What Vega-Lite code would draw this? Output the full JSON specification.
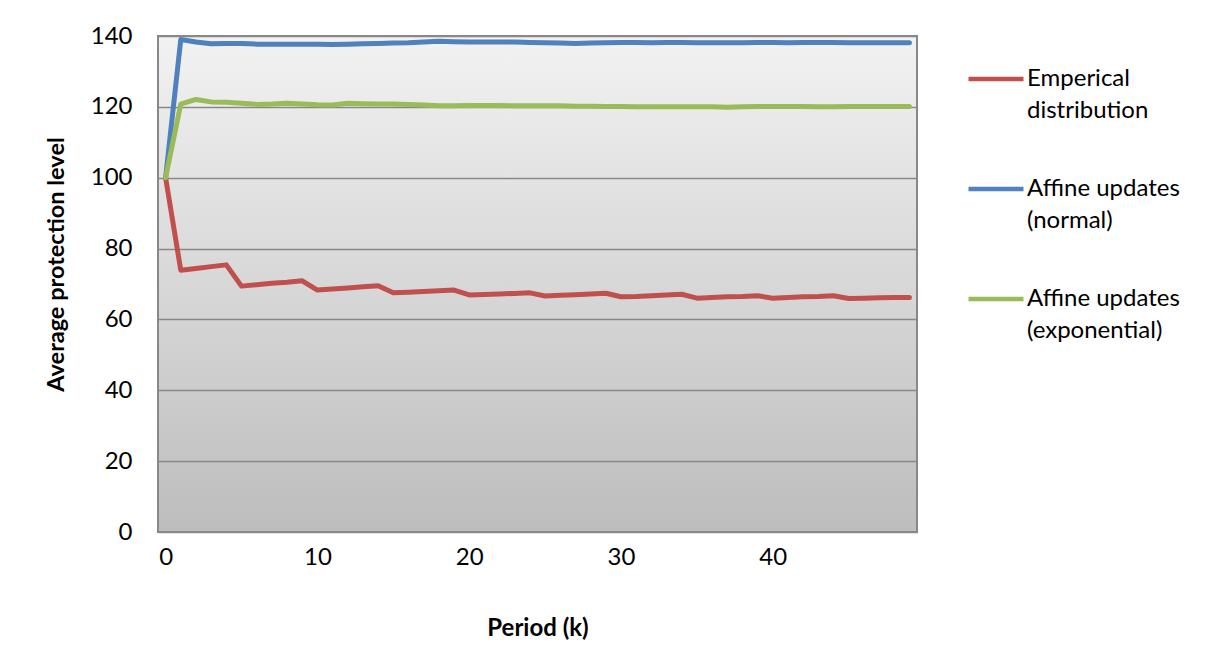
{
  "$schema": "https://vega.github.io/schema/vega-lite/v6.json",
  "width": 759,
  "height": 496,
  "autosize": {"type": "none"},
  "padding": {"left": 158, "top": 36, "right": 299, "bottom": 138},
  "background": "white",
  "view": {
    "fill": {"gradient": "linear", "x1": 0, "y1": 0, "x2": 0, "y2": 1, "stops": [{"offset": 0, "color": "#f2f2f2"}, {"offset": 1, "color": "#bdbdbd"}]},
    "stroke": "#888888",
    "strokeWidth": 2
  },
  "datasets": {
    "main": [
      {"k":0,"series":"Emperical distribution","value":100},
      {"k":1,"series":"Emperical distribution","value":73.9},
      {"k":2,"series":"Emperical distribution","value":74.4},
      {"k":3,"series":"Emperical distribution","value":74.9},
      {"k":4,"series":"Emperical distribution","value":75.4},
      {"k":5,"series":"Emperical distribution","value":69.4},
      {"k":6,"series":"Emperical distribution","value":69.8},
      {"k":7,"series":"Emperical distribution","value":70.2},
      {"k":8,"series":"Emperical distribution","value":70.5},
      {"k":9,"series":"Emperical distribution","value":70.9},
      {"k":10,"series":"Emperical distribution","value":68.3},
      {"k":11,"series":"Emperical distribution","value":68.6},
      {"k":12,"series":"Emperical distribution","value":68.9},
      {"k":13,"series":"Emperical distribution","value":69.2},
      {"k":14,"series":"Emperical distribution","value":69.5},
      {"k":15,"series":"Emperical distribution","value":67.5},
      {"k":16,"series":"Emperical distribution","value":67.7},
      {"k":17,"series":"Emperical distribution","value":67.9},
      {"k":18,"series":"Emperical distribution","value":68.1},
      {"k":19,"series":"Emperical distribution","value":68.3},
      {"k":20,"series":"Emperical distribution","value":66.9},
      {"k":21,"series":"Emperical distribution","value":67.05},
      {"k":22,"series":"Emperical distribution","value":67.2},
      {"k":23,"series":"Emperical distribution","value":67.35},
      {"k":24,"series":"Emperical distribution","value":67.5},
      {"k":25,"series":"Emperical distribution","value":66.6},
      {"k":26,"series":"Emperical distribution","value":66.8},
      {"k":27,"series":"Emperical distribution","value":67.0},
      {"k":28,"series":"Emperical distribution","value":67.2},
      {"k":29,"series":"Emperical distribution","value":67.4},
      {"k":30,"series":"Emperical distribution","value":66.4},
      {"k":31,"series":"Emperical distribution","value":66.5},
      {"k":32,"series":"Emperical distribution","value":66.7},
      {"k":33,"series":"Emperical distribution","value":66.9},
      {"k":34,"series":"Emperical distribution","value":67.1},
      {"k":35,"series":"Emperical distribution","value":66.0},
      {"k":36,"series":"Emperical distribution","value":66.2},
      {"k":37,"series":"Emperical distribution","value":66.4},
      {"k":38,"series":"Emperical distribution","value":66.5},
      {"k":39,"series":"Emperical distribution","value":66.7},
      {"k":40,"series":"Emperical distribution","value":66.0},
      {"k":41,"series":"Emperical distribution","value":66.2},
      {"k":42,"series":"Emperical distribution","value":66.4},
      {"k":43,"series":"Emperical distribution","value":66.5},
      {"k":44,"series":"Emperical distribution","value":66.7},
      {"k":45,"series":"Emperical distribution","value":65.9},
      {"k":46,"series":"Emperical distribution","value":66.0},
      {"k":47,"series":"Emperical distribution","value":66.1},
      {"k":48,"series":"Emperical distribution","value":66.2},
      {"k":49,"series":"Emperical distribution","value":66.2},
      {"k":0,"series":"Affine updates (normal)","value":100},
      {"k":1,"series":"Affine updates (normal)","value":139.0},
      {"k":2,"series":"Affine updates (normal)","value":138.3},
      {"k":3,"series":"Affine updates (normal)","value":137.8},
      {"k":4,"series":"Affine updates (normal)","value":137.9},
      {"k":5,"series":"Affine updates (normal)","value":137.9},
      {"k":6,"series":"Affine updates (normal)","value":137.7},
      {"k":7,"series":"Affine updates (normal)","value":137.7},
      {"k":8,"series":"Affine updates (normal)","value":137.7},
      {"k":9,"series":"Affine updates (normal)","value":137.7},
      {"k":10,"series":"Affine updates (normal)","value":137.7},
      {"k":11,"series":"Affine updates (normal)","value":137.6},
      {"k":12,"series":"Affine updates (normal)","value":137.7},
      {"k":13,"series":"Affine updates (normal)","value":137.8},
      {"k":14,"series":"Affine updates (normal)","value":137.9},
      {"k":15,"series":"Affine updates (normal)","value":138.0},
      {"k":16,"series":"Affine updates (normal)","value":138.1},
      {"k":17,"series":"Affine updates (normal)","value":138.3},
      {"k":18,"series":"Affine updates (normal)","value":138.5},
      {"k":19,"series":"Affine updates (normal)","value":138.4},
      {"k":20,"series":"Affine updates (normal)","value":138.3},
      {"k":21,"series":"Affine updates (normal)","value":138.3},
      {"k":22,"series":"Affine updates (normal)","value":138.3},
      {"k":23,"series":"Affine updates (normal)","value":138.3},
      {"k":24,"series":"Affine updates (normal)","value":138.2},
      {"k":25,"series":"Affine updates (normal)","value":138.1},
      {"k":26,"series":"Affine updates (normal)","value":138.0},
      {"k":27,"series":"Affine updates (normal)","value":137.9},
      {"k":28,"series":"Affine updates (normal)","value":138.0},
      {"k":29,"series":"Affine updates (normal)","value":138.1},
      {"k":30,"series":"Affine updates (normal)","value":138.2},
      {"k":31,"series":"Affine updates (normal)","value":138.2},
      {"k":32,"series":"Affine updates (normal)","value":138.1},
      {"k":33,"series":"Affine updates (normal)","value":138.2},
      {"k":34,"series":"Affine updates (normal)","value":138.2},
      {"k":35,"series":"Affine updates (normal)","value":138.1},
      {"k":36,"series":"Affine updates (normal)","value":138.1},
      {"k":37,"series":"Affine updates (normal)","value":138.1},
      {"k":38,"series":"Affine updates (normal)","value":138.1},
      {"k":39,"series":"Affine updates (normal)","value":138.2},
      {"k":40,"series":"Affine updates (normal)","value":138.2},
      {"k":41,"series":"Affine updates (normal)","value":138.1},
      {"k":42,"series":"Affine updates (normal)","value":138.2},
      {"k":43,"series":"Affine updates (normal)","value":138.2},
      {"k":44,"series":"Affine updates (normal)","value":138.2},
      {"k":45,"series":"Affine updates (normal)","value":138.1},
      {"k":46,"series":"Affine updates (normal)","value":138.1},
      {"k":47,"series":"Affine updates (normal)","value":138.1},
      {"k":48,"series":"Affine updates (normal)","value":138.1},
      {"k":49,"series":"Affine updates (normal)","value":138.1},
      {"k":0,"series":"Affine updates (exponential)","value":100},
      {"k":1,"series":"Affine updates (exponential)","value":120.8},
      {"k":2,"series":"Affine updates (exponential)","value":122.1},
      {"k":3,"series":"Affine updates (exponential)","value":121.4},
      {"k":4,"series":"Affine updates (exponential)","value":121.3},
      {"k":5,"series":"Affine updates (exponential)","value":121.0},
      {"k":6,"series":"Affine updates (exponential)","value":120.7},
      {"k":7,"series":"Affine updates (exponential)","value":120.8},
      {"k":8,"series":"Affine updates (exponential)","value":121.0},
      {"k":9,"series":"Affine updates (exponential)","value":120.8},
      {"k":10,"series":"Affine updates (exponential)","value":120.6},
      {"k":11,"series":"Affine updates (exponential)","value":120.5},
      {"k":12,"series":"Affine updates (exponential)","value":121.0},
      {"k":13,"series":"Affine updates (exponential)","value":120.9},
      {"k":14,"series":"Affine updates (exponential)","value":120.8},
      {"k":15,"series":"Affine updates (exponential)","value":120.8},
      {"k":16,"series":"Affine updates (exponential)","value":120.7},
      {"k":17,"series":"Affine updates (exponential)","value":120.5},
      {"k":18,"series":"Affine updates (exponential)","value":120.3},
      {"k":19,"series":"Affine updates (exponential)","value":120.3},
      {"k":20,"series":"Affine updates (exponential)","value":120.4},
      {"k":21,"series":"Affine updates (exponential)","value":120.4},
      {"k":22,"series":"Affine updates (exponential)","value":120.4},
      {"k":23,"series":"Affine updates (exponential)","value":120.3},
      {"k":24,"series":"Affine updates (exponential)","value":120.3},
      {"k":25,"series":"Affine updates (exponential)","value":120.3},
      {"k":26,"series":"Affine updates (exponential)","value":120.3},
      {"k":27,"series":"Affine updates (exponential)","value":120.2},
      {"k":28,"series":"Affine updates (exponential)","value":120.2},
      {"k":29,"series":"Affine updates (exponential)","value":120.1},
      {"k":30,"series":"Affine updates (exponential)","value":120.1},
      {"k":31,"series":"Affine updates (exponential)","value":120.0},
      {"k":32,"series":"Affine updates (exponential)","value":120.0},
      {"k":33,"series":"Affine updates (exponential)","value":120.0},
      {"k":34,"series":"Affine updates (exponential)","value":120.0},
      {"k":35,"series":"Affine updates (exponential)","value":120.0},
      {"k":36,"series":"Affine updates (exponential)","value":120.0},
      {"k":37,"series":"Affine updates (exponential)","value":119.9},
      {"k":38,"series":"Affine updates (exponential)","value":120.0},
      {"k":39,"series":"Affine updates (exponential)","value":120.1},
      {"k":40,"series":"Affine updates (exponential)","value":120.1},
      {"k":41,"series":"Affine updates (exponential)","value":120.1},
      {"k":42,"series":"Affine updates (exponential)","value":120.1},
      {"k":43,"series":"Affine updates (exponential)","value":120.0},
      {"k":44,"series":"Affine updates (exponential)","value":120.0},
      {"k":45,"series":"Affine updates (exponential)","value":120.1},
      {"k":46,"series":"Affine updates (exponential)","value":120.1},
      {"k":47,"series":"Affine updates (exponential)","value":120.1},
      {"k":48,"series":"Affine updates (exponential)","value":120.1},
      {"k":49,"series":"Affine updates (exponential)","value":120.1}
    ]
  },
  "data": {"name": "main"},
  "mark": {"type": "line", "strokeWidth": 5, "strokeCap": "round", "strokeJoin": "round"},
  "encoding": {
    "x": {
      "field": "k",
      "type": "quantitative",
      "scale": {"domain": [-0.5, 49.5], "nice": false, "zero": false},
      "axis": {
        "values": [0, 10, 20, 30, 40],
        "grid": false,
        "ticks": false,
        "domain": false,
        "labelFontSize": 24,
        "labelPadding": 13,
        "labelColor": "black",
        "title": "Period (k)",
        "titleFontSize": 24,
        "titleFontWeight": "bold",
        "titleColor": "black",
        "titlePadding": 47
      }
    },
    "y": {
      "field": "value",
      "type": "quantitative",
      "scale": {"domain": [0, 140], "nice": false},
      "axis": {
        "values": [0, 20, 40, 60, 80, 100, 120, 140],
        "grid": true,
        "gridColor": "#888888",
        "gridWidth": 1.5,
        "ticks": false,
        "domain": false,
        "labelFontSize": 24,
        "labelPadding": 26,
        "labelColor": "black",
        "title": "Average protection level",
        "titleFontSize": 23.5,
        "titleFontWeight": "bold",
        "titleColor": "black",
        "titlePadding": 22,
        "titleY": 228
      }
    },
    "color": {
      "field": "series",
      "type": "nominal",
      "scale": {
        "domain": ["Emperical distribution", "Affine updates (normal)", "Affine updates (exponential)"],
        "range": ["#C0504D", "#4F81BD", "#9BBB59"]
      },
      "legend": {
        "orient": "none",
        "legendX": 808,
        "legendY": 13,
        "padding": 0,
        "title": null,
        "symbolType": "stroke",
        "symbolSize": 3025,
        "symbolStrokeWidth": 4.5,
        "labelFontSize": 24,
        "labelColor": "black",
        "labelOffset": 1,
        "labelLimit": 400,
        "labelBaseline": "middle",
        "rowPadding": 36,
        "labelExpr": "datum.label == 'Emperical distribution' ? ['Emperical', 'distribution'] : datum.label == 'Affine updates (normal)' ? ['Affine updates', '(normal)'] : ['Affine updates', '(exponential)']",
        "encode": {"labels": {"update": {"lineHeight": {"value": 32}}}}
      }
    }
  },
  "config": {"font": "Lato"}
}
